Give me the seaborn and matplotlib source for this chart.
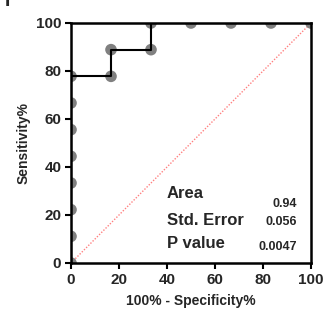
import numpy as np
import pandas as pd
import matplotlib
matplotlib.use("Agg")
import matplotlib.pyplot as plt
import seaborn as sns

# ROC points (100% - specificity, sensitivity)
fpr = [0, 0, 0, 0, 0, 0, 0, 0, 16.67, 16.67, 33.33, 33.33, 50, 66.67, 83.33, 100]
tpr = [0, 11.11, 22.22, 33.33, 44.44, 55.56, 66.67, 77.78, 77.78, 88.89, 88.89, 100, 100, 100, 100, 100]
stat_names = ["Area", "Std. Error", "P value"]
stat_values = ["0.94", "0.056", "0.0047"]
ticks = [0, 20, 40, 60, 80, 100]

# baselines of the stats table (axes fraction)
name_y = [0.271, 0.158, 0.0625]
value_y = [0.233, 0.158, 0.054]

sns.set_theme(style="ticks")
plt.rcParams["font.family"] = ["Liberation Sans", "DejaVu Sans"]
plt.rcParams["font.weight"] = "bold"

df = pd.DataFrame({"fpr": fpr, "tpr": tpr})

fig = plt.figure(figsize=(3.26, 3.14), dpi=100)
ax = fig.add_axes([71 / 326, 1 - 263 / 314, 240 / 326, 240 / 314])

ax.plot([0, 100], [0, 100], color="#ff8080", lw=1.0, ls=(0, (1, 1.2)), zorder=1)
sns.scatterplot(data=df, x="fpr", y="tpr", ax=ax, color="#808080", s=70,
                edgecolor="none", zorder=2, clip_on=True)
sns.lineplot(data=df, x="fpr", y="tpr", ax=ax, drawstyle="steps-post",
             color="black", lw=1.5, estimator=None, sort=False, zorder=3)

ax.set_xlim(0, 100)
ax.set_ylim(0, 100)
ax.set_xticks(ticks)
ax.set_yticks(ticks)
ax.set_xlabel("100% - Specificity%", fontsize=10, fontweight="bold", labelpad=5)
ax.set_ylabel("Sensitivity%", fontsize=10, fontweight="bold", labelpad=4)
for s in ax.spines.values():
    s.set_linewidth(1.8)
    s.set_color("black")
ax.tick_params(width=1.5, length=4, labelsize=11, color="black", pad=3)
for lab in ax.get_xticklabels() + ax.get_yticklabels():
    lab.set_fontweight("bold")

for n, v, yn, yv in zip(stat_names, stat_values, name_y, value_y):
    ax.text(0.4, yn, n, transform=ax.transAxes, fontsize=12, fontweight="bold",
            va="baseline", ha="left")
    ax.text(0.94, yv, v, transform=ax.transAxes, fontsize=9,
            fontweight="bold", va="baseline", ha="right")

fig.text(5 / 326, 1 - 2 / 314, "I", fontsize=14, fontweight="bold", va="center", ha="left")

fig.savefig("out.png", dpi=100)
